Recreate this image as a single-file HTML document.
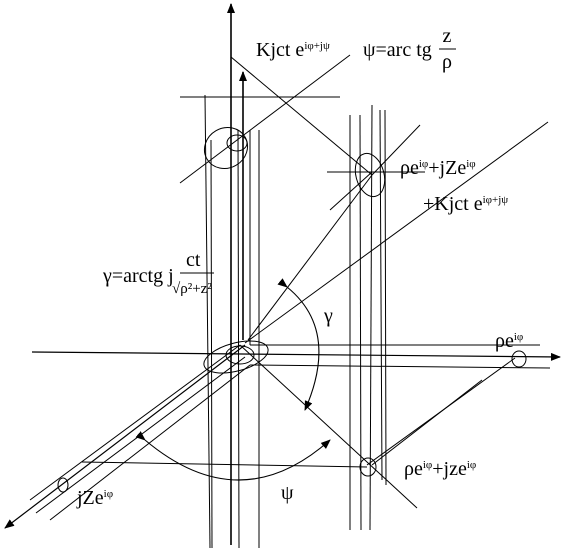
<!DOCTYPE html>
<html><head><meta charset="utf-8"><style>
html,body{margin:0;padding:0;background:#fff}
svg{display:block}
text{font-family:"Liberation Serif","DejaVu Serif",serif;fill:#000}
</style></head><body>
<svg width="563" height="552" viewBox="0 0 563 552" xmlns="http://www.w3.org/2000/svg">
<defs><marker id="ah" markerWidth="10" markerHeight="8" refX="9" refY="4" orient="auto" markerUnits="userSpaceOnUse"><path d="M0,0 L10,4 L0,8 Z" fill="#000"/></marker></defs>
<g stroke="#000" fill="none" stroke-width="1.2">
<line x1="231" y1="545" x2="231" y2="4" marker-end="url(#ah)" stroke-width="1.6"/>
<line x1="243" y1="340" x2="243" y2="72" marker-end="url(#ah)" stroke-width="1.6"/>
<line x1="32" y1="352" x2="560" y2="357" marker-end="url(#ah)"/>
<line x1="245" y1="345" x2="5" y2="528" marker-end="url(#ah)"/>
</g>
<g stroke="#000" fill="none" stroke-width="1">
<line x1="205" y1="95" x2="210" y2="548"/><line x1="211" y1="140" x2="212" y2="548"/>
<line x1="238" y1="130" x2="239" y2="548"/><line x1="259" y1="130" x2="259" y2="548"/>
<line x1="250" y1="130" x2="250" y2="345"/>
<line x1="350" y1="115" x2="350" y2="530"/><line x1="360" y1="115" x2="361" y2="530"/>
<line x1="372" y1="105" x2="370" y2="530"/><line x1="380" y1="110" x2="382" y2="480"/><line x1="385" y1="110" x2="386" y2="485"/>
<line x1="180" y1="97" x2="340" y2="97"/><line x1="327" y1="172" x2="425" y2="172"/>
<line x1="180" y1="183" x2="350" y2="55"/>
<line x1="231" y1="57" x2="372" y2="175"/>
<line x1="372" y1="175" x2="420" y2="125"/><line x1="330" y1="210" x2="372" y2="172"/>
<line x1="240" y1="345" x2="417" y2="508"/>
<line x1="245" y1="343" x2="548" y2="122"/>
<line x1="248" y1="340" x2="372" y2="175"/>
<line x1="250" y1="345" x2="540" y2="345"/><line x1="250" y1="365" x2="550" y2="368"/>
<line x1="515" y1="358" x2="367" y2="465"/>
<line x1="82" y1="462" x2="367" y2="467"/>
<line x1="372" y1="465" x2="482" y2="380"/>
<line x1="30" y1="500" x2="240" y2="345"/><line x1="36" y1="513" x2="245" y2="357"/><line x1="50" y1="520" x2="250" y2="365"/>
</g>
<g stroke="#000" fill="none" stroke-width="1">
<ellipse cx="226" cy="148" rx="22" ry="20" transform="rotate(-30 226 148)"/>
<ellipse cx="237" cy="143" rx="10" ry="8"/>
<ellipse cx="370" cy="175" rx="14" ry="22" transform="rotate(-15 370 175)"/>
<ellipse cx="236" cy="357" rx="33" ry="14" transform="rotate(-15 236 357)"/>
<ellipse cx="240" cy="355" rx="14" ry="9"/>
<ellipse cx="519" cy="359" rx="7" ry="8"/>
<ellipse cx="368" cy="467" rx="8" ry="9"/>
<ellipse cx="63" cy="485" rx="5" ry="7"/>
</g>
<g stroke="#000" fill="none" stroke-width="1.1">
<path d="M287,287 Q340,330 305,410" marker-start="url(#ah)" marker-end="url(#ah)"/>
<path d="M145,440 Q240,520 330,440" marker-start="url(#ah)" marker-end="url(#ah)"/>
</g>
<g font-size="20" font-family="Liberation Serif, DejaVu Serif, serif">
<text x="256" y="56">Kjct e<tspan font-size="11" dy="-7">iφ+jψ</tspan></text>
<text x="363" y="56">ψ=arc tg</text>
<text x="447" y="42" text-anchor="middle">z</text><line x1="439" y1="49" x2="456" y2="49" stroke="#000"/><text x="447" y="68" text-anchor="middle">ρ</text>
<text x="400" y="174">ρe<tspan font-size="11" dy="-7">iφ</tspan><tspan dy="7">+jZe</tspan><tspan font-size="11" dy="-7">iφ</tspan></text>
<text x="423" y="210">+Kjct e<tspan font-size="11" dy="-7">iφ+jψ</tspan></text>
<text x="103" y="282">γ=arctg j</text>
<text x="186" y="266">ct</text><line x1="180" y1="273" x2="214" y2="273" stroke="#000"/>
<text x="172" y="293" font-size="15">√ρ²+z²</text>
<text x="324" y="322">γ</text>
<text x="495" y="347">ρe<tspan font-size="11" dy="-7">iφ</tspan></text>
<text x="281" y="499">ψ</text>
<text x="77" y="504">jZe<tspan font-size="11" dy="-7">iφ</tspan></text>
<text x="404" y="475">ρe<tspan font-size="11" dy="-7">iφ</tspan><tspan dy="7">+jze</tspan><tspan font-size="11" dy="-7">iφ</tspan></text>
</g>
</svg>
</body></html>
